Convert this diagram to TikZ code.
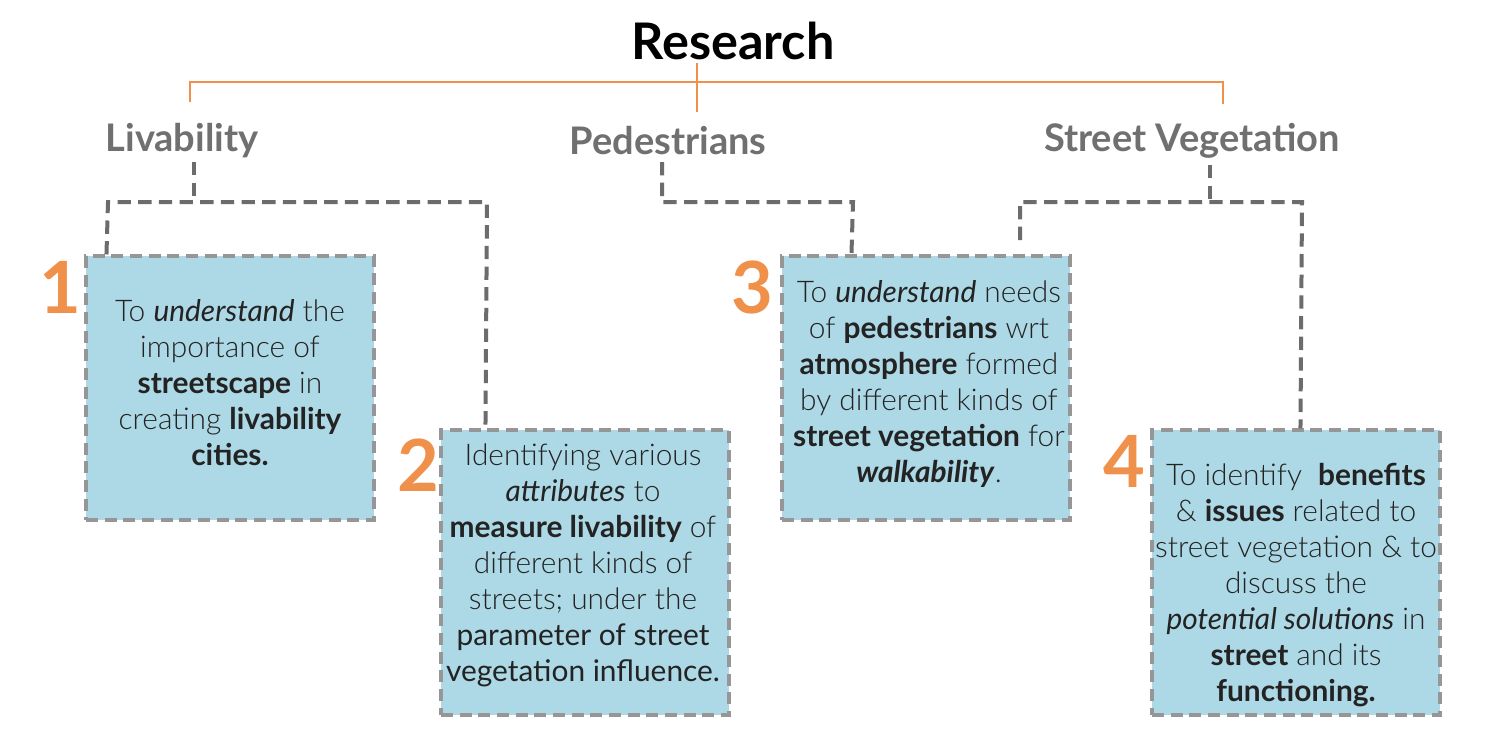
\documentclass[tikz,border=0pt]{standalone}
\usepackage{fontspec}
\setmainfont{Lato}[UprightFont=* Light, BoldFont=* Bold, ItalicFont=* Italic, BoldItalicFont=* Bold Italic]
\newfontfamily\latoreg{Lato}
\usetikzlibrary{calc}
\definecolor{orng}{RGB}{240,145,75}
\definecolor{catgray}{RGB}{112,112,112}
\definecolor{dashgray}{RGB}{108,108,108}
\definecolor{boxgray}{RGB}{150,150,150}
\definecolor{boxblue}{RGB}{173,216,229}
\definecolor{txt}{RGB}{35,35,35}
\tikzset{
  titlestyle/.style={font=\bfseries\fontsize{37.8}{44}\selectfont, text=black},
  catstyle/.style={font=\bfseries\fontsize{28.5}{32}\selectfont, text=catgray},
  numstyle/.style={font=\bfseries\fontsize{54}{60}\selectfont, text=orng},
  boxstyle/.style={draw=boxgray, fill=boxblue, line width=2.3pt, dash pattern=on 9pt off 5pt, inner sep=0pt},
  txtstyle/.style={align=center, text=txt, font=\fontsize{22.4}{27}\selectfont},
  orline/.style={draw=orng, line width=1.6pt},
  conn/.style={draw=dashgray, line width=3pt, dash pattern=on 10pt off 5.5pt}
}
\begin{document}
\begin{tikzpicture}[x=0.75pt,y=-0.75pt]
\useasboundingbox[fill=white] (0,0) rectangle (1500,739);
% titles
\node[titlestyle] (res) at (733,41) {Research};
\node[catstyle] (liv) at (182,141) {Livability};
\node[catstyle] (ped) at (668,141) {Pedestrians};
\node[catstyle] (veg) at (1192,141) {Street Vegetation};
% orange tree
\coordinate (ot) at (697,63);
\coordinate (ob) at (697,112);
\coordinate (ol) at (190,102);
\coordinate (or) at (1223,104);
\draw[orline] (ot) -- (ob);
\draw[orline] (ol) -- (190,82) -- (1223,82) -- (or);
% boxes
\node[boxstyle, minimum width=216pt, minimum height=198pt] (b1) at (230,388) {};
\node[boxstyle, minimum width=216pt, minimum height=213.75pt] (b2) at (585,572.5) {};
\node[boxstyle, minimum width=216pt, minimum height=198pt] (b3) at (926,388) {};
\node[boxstyle, minimum width=216pt, minimum height=213.75pt] (b4) at (1296,572.5) {};
% numbers
\node[numstyle] (n1) at (60,287) {1};
\node[numstyle] (n2) at (418,465) {2};
\node[numstyle] (n3) at (752,287) {3};
\node[numstyle] (n4) at (1124,461) {4};
% box texts
\node[txtstyle] (t1) at (230,383) {To \textit{understand} the\\ importance of\\ \textbf{streetscape} in\\ creating \textbf{livability}\\ \textbf{cities.}};
\node[txtstyle] (t2) at (583,565) {Identifying various\\ \textit{attributes} to\\ \textbf{measure livability} of\\ different kinds of\\ streets; under the\\ {\latoreg parameter of street}\\ {\latoreg vegetation influence.}};
\node[txtstyle] (t3) at (929,384) {To \textit{understand} needs\\ of \textbf{pedestrians} wrt\\ \textbf{atmosphere} formed\\ by different kinds of\\ \textbf{street vegetation} for\\ \textbf{\textit{walkability}}.};
\node[txtstyle] (t4) at (1296,585) {To identify~ \textbf{benefits}\\ \& \textbf{issues} related to\\ street vegetation \& to\\ discuss the\\ \textit{potential solutions} in\\ \textbf{street} and its\\ \textbf{functioning.}};
% dashed connectors
\coordinate (l1) at (194,162);
\coordinate (l2) at (194,202);
\draw[conn] (l1) -- (l2);
\draw[conn] ($(b1.north west)+(22,0)$) -- (108,202) -- (487,202) -- ($(b2.north west)+(46,-2)$);
\coordinate (p1) at (662,162);
\draw[conn] (p1) -- (662,202) -- (853,202) -- ($(b3.north west)+(71,0)$);
\coordinate (v1) at (1210,165);
\coordinate (v2) at (1210,202);
\coordinate (v3) at (1020,240);
\draw[conn] (v1) -- (v2);
\draw[conn] (v3) -- (1020,202) -- (1302,202) -- ($(b4.north west)+(150,0)$);
\end{tikzpicture}
\end{document}
